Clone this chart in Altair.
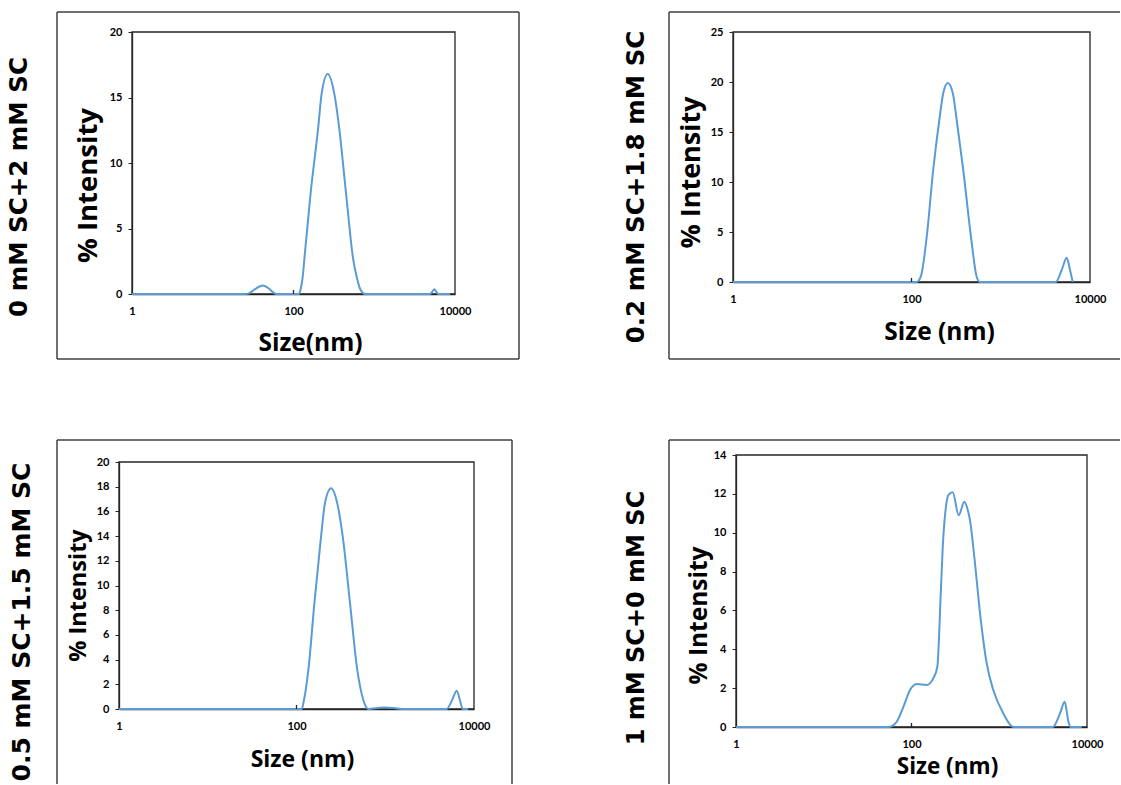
import altair as alt
import pandas as pd

# ---------------- data ----------------
panel_labels = ["0 mM SC+2 mM SC", "0.2 mM SC+1.8 mM SC",
                "0.5 mM SC+1.5 mM SC", "1 mM SC+0 mM SC"]
x_titles = ["Size(nm)", "Size (nm)", "Size (nm)", "Size (nm)"]
y_title = "% Intensity"
x_tick_values = [1, 100, 10000]
y_max = [20, 25, 20, 14]
y_step = [5, 5, 2, 2]

p1_size = [1, 25, 28, 33, 41.5, 50, 57, 62, 115, 122, 130, 136, 163, 203, 223,
           265, 320, 366, 447, 550, 606, 679, 768, 4900, 5200, 5546, 5900, 6210, 8700]
p1_int = [0, 0, 0.05, 0.35, 0.64, 0.4, 0.08, 0, 0, 0.3, 1.3, 2.6, 7.7, 12.8, 15.3,
          16.8, 15.3, 12.8, 7.7, 2.6, 1.3, 0.3, 0, 0, 0.15, 0.36, 0.15, 0, 0]

p2_size = [1, 114, 127, 148, 175, 205, 227, 255, 290, 321, 380, 464, 537, 585,
           4130, 4820, 5480, 5970, 6400]
p2_int = [0, 0, 0.53, 4.5, 11.2, 16.2, 18.9, 19.9, 18.9, 16.2, 11.2, 4.5, 0.53, 0,
          0, 1.2, 2.43, 1.2, 0]

p3_size = [1, 114.5, 121.5, 136, 159, 189, 209, 245, 288, 332, 401, 484, 566, 644,
           728, 993, 1355, 1600, 4925, 5650, 6385, 6950, 7460, 8600]
p3_int = [0, 0, 0.73, 3.16, 8.56, 13.95, 16.65, 17.87, 16.65, 13.95, 8.56, 3.16, 0.73, 0,
          0.05, 0.12, 0.05, 0, 0, 0.7, 1.48, 0.7, 0, 0]

p4_size = [1, 54.4, 67.8, 80.8, 96.2, 115, 149, 177, 197, 207.5, 211, 227, 247, 263,
           295, 345, 400, 433, 464, 529, 604, 719, 855, 1112, 1445,
           4065, 4925, 5570, 6125, 6520, 8700]
p4_int = [0, 0, 0.27, 1.04, 1.9, 2.21, 2.16, 2.5, 3.1, 5.0, 5.85, 9.28, 11.34, 11.94,
          12.08, 10.9, 11.6, 11.25, 10.65, 8.42, 5.85, 3.28, 1.9, 0.7, 0,
          0, 0.7, 1.3, 0.3, 0, 0]

sizes = [p1_size, p2_size, p3_size, p4_size]
ints = [p1_int, p2_int, p3_int, p4_int]

# ---------------- layout / style (pixels, relative to each outer box) ----------------
# sides: which edges of the outer frame are visible inside the 1121x785 picture
LAY = [
    dict(W=462, H=347, l=75, r=398, t=20, b=282, ytx=-44, yty=173, ytfs=27.5,
         xtx=253, xty=49, xtfs=24.5, lx=-37, ly=175, lfs=24.5,
         sides=["left", "top", "right", "bottom"]),
    dict(W=451, H=347, l=64, r=421, t=20, b=270, ytx=-42, yty=160, ytfs=27,
         xtx=270, xty=50, xtfs=24.5, lx=-32, ly=175, lfs=24.5,
         sides=["left", "top", "bottom"]),
    dict(W=455, H=344, l=62, r=417, t=22, b=269, ytx=-41, yty=155, ytfs=23.5,
         xtx=245, xty=50, xtfs=23, lx=-35, ly=182, lfs=25,
         sides=["left", "top", "right"]),
    dict(W=451, H=344, l=67, r=418, t=15, b=287, ytx=-37, yty=175, ytfs=24.5,
         xtx=278, xty=39, xtfs=22.5, lx=-32, ly=178, lfs=24,
         sides=["left", "top"]),
]

LINE_COLOR = "#5B9BD5"
FRAME = "#262626"
OUTER = "#404040"
TICK_FONT = "Lato"
TITLE_FONT = "Open Sans"
LABEL_FONT = "DejaVu Sans"


def side_rule(side, W, H, data):
    coords = {
        "left": (0, 0, 0, H),
        "right": (W, W, 0, H),
        "top": (0, W, 0, 0),
        "bottom": (0, W, H, H),
    }[side]
    x1, x2, y1, y2 = coords
    return alt.Chart(data).mark_rule(color=OUTER, strokeWidth=1.5).encode(
        x=alt.value(x1), x2=alt.value(x2), y=alt.value(y1), y2=alt.value(y2))


def make_panel(i):
    L = LAY[i]
    W, H, l, r, t, b = L["W"], L["H"], L["l"], L["r"], L["t"], L["b"]
    df = pd.DataFrame({"size": sizes[i], "intensity": ints[i]})
    one = pd.DataFrame({"label": [panel_labels[i]]})
    ticks_df = pd.DataFrame({"size": [100]})

    xscale = alt.Scale(type="log", domain=[1, 10000], range=[l, r], nice=False)
    yscale = alt.Scale(domain=[0, y_max[i]], range=[b, t], nice=False, zero=True)

    xaxis = alt.Axis(
        values=x_tick_values, format="d", title=x_titles[i], offset=b - H,
        ticks=False, grid=False, labelFlush=False, labelOverlap=False,
        labelFont=TICK_FONT, labelFontWeight="bold", labelFontSize=11,
        labelColor="black", labelBaseline="middle", labelPadding=17,
        domainColor=FRAME, domainWidth=1.3,
        titleFont=TITLE_FONT, titleFontWeight="bold", titleFontSize=L["xtfs"],
        titleColor="black", titleX=L["xtx"], titleY=L["xty"],
        titleAlign="center", titleBaseline="middle",
    )
    yaxis = alt.Axis(
        values=list(range(0, y_max[i] + 1, y_step[i])), title=y_title, offset=-l,
        ticks=True, tickSize=4, tickColor=FRAME, grid=False,
        labelFlush=False, labelOverlap=False,
        labelFont=TICK_FONT, labelFontWeight="bold", labelFontSize=11,
        labelColor="black", labelPadding=6,
        domainColor=FRAME, domainWidth=1.3,
        titleFont=TITLE_FONT, titleFontWeight="bold", titleFontSize=L["ytfs"],
        titleColor="black", titleX=L["ytx"], titleY=L["yty"],
        titleAlign="center", titleBaseline="middle", titleAngle=270,
    )

    box = alt.Chart(one).mark_rect(fillOpacity=0, stroke=FRAME, strokeWidth=1.3).encode(
        x=alt.value(l), x2=alt.value(r), y=alt.value(t), y2=alt.value(b))

    line = alt.Chart(df).mark_line(color=LINE_COLOR, strokeWidth=2,
                                   interpolate="monotone").encode(
        x=alt.X("size:Q", scale=xscale, axis=xaxis),
        y=alt.Y("intensity:Q", scale=yscale, axis=yaxis),
    )

    tick = alt.Chart(ticks_df).mark_rule(color=FRAME, strokeWidth=1.3).encode(
        x=alt.X("size:Q", scale=xscale),
        y=alt.value(b - 4), y2=alt.value(b),
    )

    label = alt.Chart(one).mark_text(
        angle=270, font=LABEL_FONT, fontWeight="bold", fontSize=L["lfs"],
        align="center", baseline="middle", color="black").encode(
        text="label:N", x=alt.value(L["lx"]), y=alt.value(L["ly"]))

    layers = [box, line, tick, label] + [side_rule(s, W, H, one) for s in L["sides"]]
    if i == 0:
        anchor = alt.Chart(one).mark_rect(opacity=0).encode(
            x=alt.value(-57), x2=alt.value(-56), y=alt.value(-12), y2=alt.value(-11))
        layers.append(anchor)

    return alt.layer(*layers).properties(width=W, height=H)


panels = [make_panel(i) for i in range(4)]

chart = alt.concat(
    *panels, columns=2,
    spacing=alt.RowColnumber(row=81, column=150),
    bounds="flush",
).properties(
    padding={"left": 0, "top": 0, "right": 0, "bottom": 0},
    background="white",
).configure_view(
    stroke="transparent", strokeWidth=0,
)

chart.save("out.html", embed_options={"renderer": "svg", "actions": False})
